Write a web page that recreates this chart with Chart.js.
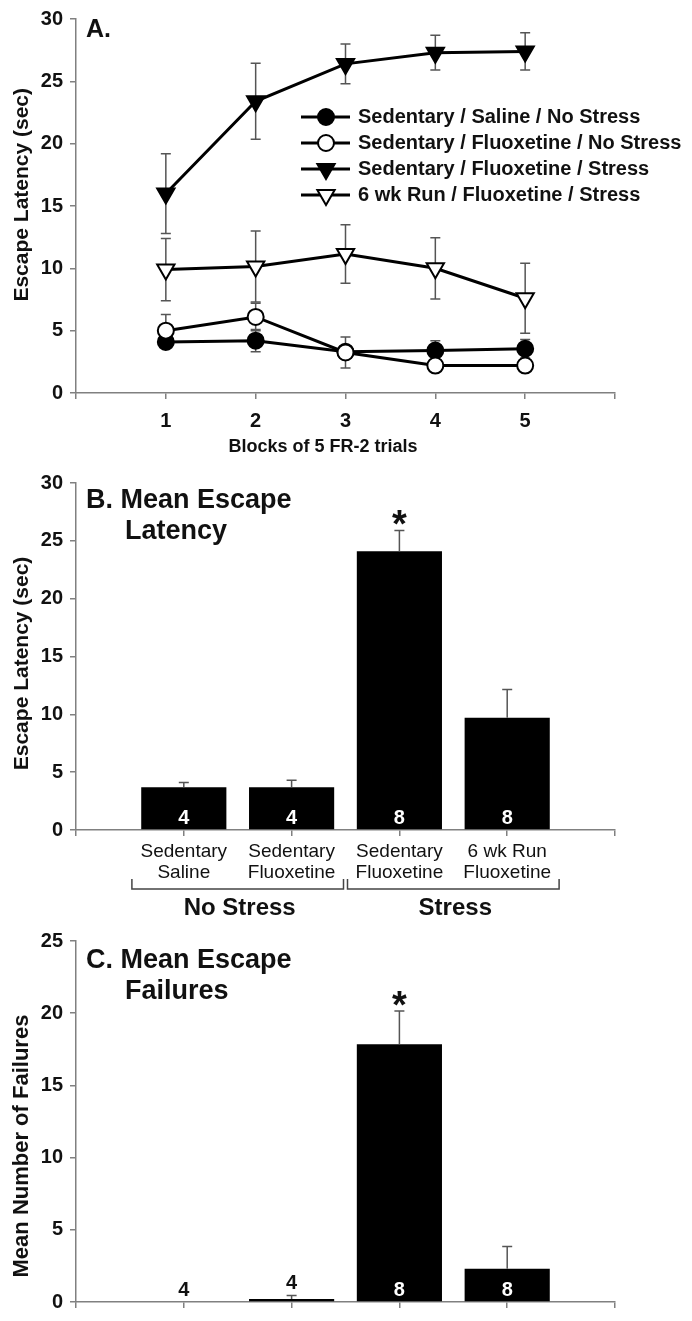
<!DOCTYPE html>
<html>
<head>
<meta charset="utf-8">
<script src="https://cdn.jsdelivr.net/npm/chart.js@4.4.1/dist/chart.umd.min.js"></script>
<style>
  html, body { margin: 0; padding: 0; background: #fff; }
  #wrap { position: relative; width: 692px; height: 1321px; }
  .panel { position: absolute; left: 0; width: 692px; }
</style>
</head>
<body>
<div id="wrap">
  <div class="panel" style="top:0"><canvas id="chartA" width="692" height="460"></canvas></div>
  <div class="panel" style="top:460px"><canvas id="chartB" width="692" height="460"></canvas></div>
  <div class="panel" style="top:920px"><canvas id="chartC" width="692" height="401"></canvas></div>
</div>
<script>
// ---- data ----
var blocks = [1, 2, 3, 4, 5];

var seriesNames = [
  'Sedentary / Saline / No Stress',
  'Sedentary / Fluoxetine / No Stress',
  'Sedentary / Fluoxetine / Stress',
  '6 wk Run / Fluoxetine / Stress'
];
var salineNoStress    = [4.1, 4.2, 3.3, 3.4, 3.55];
var salineNoStressErr = [0.5, 0.9, 0.5, 0.8, 0.75];
var fluoxNoStress     = [5.0, 6.1, 3.25, 2.2, 2.2];
var fluoxNoStressErr  = [1.3, 1.1, 1.25, 0.25, 0.25];
var fluoxStress       = [16.0, 23.4, 26.4, 27.3, 27.4];
var fluoxStressErr    = [3.2, 3.05, 1.6, 1.4, 1.5];
var runFluoxStress    = [9.9, 10.15, 11.15, 10.0, 7.6];
var runFluoxStressErr = [2.5, 2.85, 2.35, 2.45, 2.8];

var groupLabels = [['Sedentary', 'Saline'], ['Sedentary', 'Fluoxetine'], ['Sedentary', 'Fluoxetine'], ['6 wk Run', 'Fluoxetine']];
var groupN = ['4', '4', '8', '8'];
var significance = ['', '', '*', ''];
var stressGroups = [{ label: 'No Stress', first: 1, last: 2 }, { label: 'Stress', first: 3, last: 4 }];

var latencyMean = [3.7, 3.7, 24.1, 9.7];
var latencyErr  = [0.4, 0.6, 1.8, 2.45];
var failuresMean = [0, 0.2, 17.85, 2.3];
var failuresErr  = [0, 0.25, 2.3, 1.55];

// ---- styles ----
var FONT = "'Liberation Sans', Arial, sans-serif";
var AXIS_GREY = '#808080';
var TEXT = '#111';

var seriesStyles = [
  { pointStyle: 'circle', rotation: 0, radius: 8, fill: '#000' },
  { pointStyle: 'circle', rotation: 0, radius: 8, fill: '#fff' },
  { pointStyle: 'triangle', rotation: 180, radius: 10, fill: '#000' },
  { pointStyle: 'triangle', rotation: 180, radius: 10, fill: '#fff' }
];

function yAxis(max, width) {
  return {
    min: 0, max: max,
    ticks: { stepSize: 5, color: TEXT, font: { family: FONT, size: 20, weight: 'bold' }, padding: 7 },
    grid: { drawOnChartArea: false, color: AXIS_GREY, tickLength: 6, lineWidth: 1.5 },
    border: { color: AXIS_GREY, width: 1.5 },
    afterFit: function (scale) { scale.width = width; }
  };
}

function drawYTitle(chart, text, value, size) {
  var ctx = chart.ctx;
  var y = chart.scales.y.getPixelForValue(value);
  ctx.save();
  ctx.translate(22, y);
  ctx.rotate(-Math.PI / 2);
  ctx.font = 'bold ' + size + 'px ' + FONT;
  ctx.fillStyle = TEXT;
  ctx.textAlign = 'center';
  ctx.textBaseline = 'middle';
  ctx.fillText(text, 0, 0);
  ctx.restore();
}

function drawMarker(ctx, st, x, y) {
  ctx.fillStyle = st.fill;
  ctx.strokeStyle = '#000';
  ctx.lineWidth = 2;
  Chart.helpers.drawPoint(ctx, { pointStyle: st.pointStyle, rotation: st.rotation, radius: st.radius, borderWidth: 2 }, x, y);
}

function makeSeries(k, values, errors, order) {
  var st = seriesStyles[k];
  return {
    label: seriesNames[k],
    data: blocks.map(function (b, i) { return { x: b, y: values[i] }; }),
    errors: errors,
    borderColor: '#000',
    borderWidth: 3,
    pointStyle: st.pointStyle,
    rotation: st.rotation,
    pointRadius: st.radius,
    pointBackgroundColor: st.fill,
    pointBorderColor: '#000',
    pointBorderWidth: 2,
    tension: 0,
    order: order
  };
}

// ---- panel A ----
var lineErrorBars = {
  id: 'lineErrorBars',
  beforeDatasetsDraw: function (chart) {
    var ctx = chart.ctx, ys = chart.scales.y;
    ctx.save();
    ctx.strokeStyle = '#555';
    ctx.lineWidth = 1.5;
    chart.data.datasets.forEach(function (ds, di) {
      chart.getDatasetMeta(di).data.forEach(function (pt, i) {
        var v = ds.data[i].y, e = ds.errors[i];
        var top = ys.getPixelForValue(v + e), bot = ys.getPixelForValue(v - e);
        ctx.beginPath();
        ctx.moveTo(pt.x, top); ctx.lineTo(pt.x, bot);
        ctx.moveTo(pt.x - 5, top); ctx.lineTo(pt.x + 5, top);
        ctx.moveTo(pt.x - 5, bot); ctx.lineTo(pt.x + 5, bot);
        ctx.stroke();
      });
    });
    ctx.restore();
  }
};

var panelADecor = {
  id: 'panelADecor',
  afterDraw: function (chart) {
    var ctx = chart.ctx, area = chart.chartArea;
    ctx.save();
    ctx.fillStyle = TEXT;
    ctx.font = 'bold 25px ' + FONT;
    ctx.textAlign = 'left';
    ctx.textBaseline = 'alphabetic';
    ctx.fillText('A.', area.left + 10, 37);

    // legend
    ctx.font = 'bold 20px ' + FONT;
    ctx.textBaseline = 'middle';
    var rowY = [117, 143, 169, 195];
    for (var k = 0; k < seriesNames.length; k++) {
      var y = rowY[k];
      ctx.strokeStyle = '#000';
      ctx.lineWidth = 3;
      ctx.beginPath();
      ctx.moveTo(301, y); ctx.lineTo(350, y);
      ctx.stroke();
      drawMarker(ctx, seriesStyles[k], 326, y);
      ctx.fillStyle = TEXT;
      ctx.fillText(seriesNames[k], 358, y);
    }

    // x axis title
    ctx.textAlign = 'center';
    ctx.font = 'bold 18px ' + FONT;
    ctx.fillText('Blocks of 5 FR-2 trials', chart.scales.x.getPixelForValue(2.75), area.bottom + 54);
    ctx.restore();
    drawYTitle(chart, 'Escape Latency (sec)', 15.9, 21);
  }
};

new Chart(document.getElementById('chartA'), {
  type: 'line',
  data: {
    datasets: [
      makeSeries(0, salineNoStress, salineNoStressErr, 2),
      makeSeries(1, fluoxNoStress, fluoxNoStressErr, 1),
      makeSeries(2, fluoxStress, fluoxStressErr, 3),
      makeSeries(3, runFluoxStress, runFluoxStressErr, 4)
    ]
  },
  options: {
    responsive: false,
    animation: false,
    layout: { padding: { left: 0, right: 77, top: 16, bottom: 0 } },
    plugins: { legend: { display: false }, tooltip: { enabled: false } },
    scales: {
      x: {
        type: 'linear', min: 0, max: 6,
        ticks: {
          stepSize: 1, color: TEXT, padding: 10,
          font: { family: FONT, size: 20, weight: 'bold' },
          callback: function (v) { return (v >= 1 && v <= 5) ? v : ''; }
        },
        grid: { drawOnChartArea: false, color: AXIS_GREY, tickLength: 6, lineWidth: 1.5 },
        border: { color: AXIS_GREY, width: 1.5 },
        afterFit: function (scale) { scale.height = 67; }
      },
      y: yAxis(30, 76)
    }
  },
  plugins: [lineErrorBars, panelADecor]
});

// ---- panels B and C ----
function barDecor(errors, titleLines, yTitle, yTitleValue, yTitleSize, showGroups) {
  return {
    id: 'barDecor',
    afterDatasetsDraw: function (chart) {
      var ctx = chart.ctx, ys = chart.scales.y;
      var ds = chart.data.datasets[0], meta = chart.getDatasetMeta(0);
      var base = ys.getPixelForValue(0);
      ctx.save();
      meta.data.forEach(function (bar, i) {
        var v = ds.data[i];
        if (v === null) return;
        var k = i - 1, e = errors[k];
        var top = ys.getPixelForValue(v + e);
        if (e > 0) {
          ctx.strokeStyle = '#555';
          ctx.lineWidth = 1.5;
          ctx.beginPath();
          ctx.moveTo(bar.x, bar.y); ctx.lineTo(bar.x, top);
          ctx.moveTo(bar.x - 5, top); ctx.lineTo(bar.x + 5, top);
          ctx.stroke();
        }
        var tall = base - bar.y > 30;
        ctx.fillStyle = tall ? '#fff' : TEXT;
        ctx.font = 'bold 20px ' + FONT;
        ctx.textAlign = 'center';
        ctx.textBaseline = 'middle';
        ctx.fillText(groupN[k], bar.x, tall ? base - 12 : Math.min(base - 12, top - 12));
        if (significance[k]) {
          ctx.fillStyle = TEXT;
          ctx.font = 'bold 38px ' + FONT;
          ctx.textBaseline = 'alphabetic';
          ctx.fillText(significance[k], bar.x, top + 7);
        }
      });
      ctx.restore();
    },
    afterDraw: function (chart) {
      var ctx = chart.ctx, area = chart.chartArea, xs = chart.scales.x;
      ctx.save();
      ctx.fillStyle = TEXT;
      ctx.font = 'bold 27px ' + FONT;
      ctx.textAlign = 'left';
      ctx.textBaseline = 'alphabetic';
      ctx.fillText(titleLines[0], area.left + 10, 48);
      ctx.fillText(titleLines[1], area.left + 49, 79);
      if (showGroups) {
        stressGroups.forEach(function (g) {
          var x1 = xs.getPixelForValue(g.first - 0.5) + 2;
          var x2 = xs.getPixelForValue(g.last + 0.5) - 2;
          var yb = area.bottom + 59, yt = area.bottom + 49;
          ctx.strokeStyle = '#444';
          ctx.lineWidth = 1.5;
          ctx.beginPath();
          ctx.moveTo(x1, yt); ctx.lineTo(x1, yb); ctx.lineTo(x2, yb); ctx.lineTo(x2, yt);
          ctx.stroke();
          ctx.font = 'bold 24px ' + FONT;
          ctx.textAlign = 'center';
          ctx.textBaseline = 'middle';
          ctx.fillText(g.label, (x1 + x2) / 2 + 2, area.bottom + 78);
        });
      }
      ctx.restore();
      drawYTitle(chart, yTitle, yTitleValue, yTitleSize);
    }
  };
}

function barChart(canvasId, means, errors, yMax, padTop, xHeight, showLabels, titleLines, yTitle, yTitleValue, yTitleSize) {
  return new Chart(document.getElementById(canvasId), {
    type: 'bar',
    data: {
      labels: [''].concat(groupLabels, ['']),
      datasets: [{
        data: [null].concat(means, [null]),
        backgroundColor: '#000',
        borderWidth: 0,
        barPercentage: 0.79,
        categoryPercentage: 1
      }]
    },
    options: {
      responsive: false,
      animation: false,
      layout: { padding: { left: 0, right: 77, top: padTop, bottom: 0 } },
      plugins: { legend: { display: false }, tooltip: { enabled: false } },
      scales: {
        x: {
          offset: false,
          ticks: {
            color: TEXT, padding: 5, autoSkip: false, maxRotation: 0,
            font: { family: FONT, size: 19, lineHeight: 1.1 },
            callback: function (v) { return showLabels ? this.getLabelForValue(v) : ''; }
          },
          grid: { offset: false, drawOnChartArea: false, color: AXIS_GREY, tickLength: 6, lineWidth: 1.5 },
          border: { color: AXIS_GREY, width: 1.5 },
          afterFit: function (scale) { scale.height = xHeight; }
        },
        y: yAxis(yMax, 76)
      }
    },
    plugins: [barDecor(errors, titleLines, yTitle, yTitleValue, yTitleSize, showLabels)]
  });
}

barChart('chartB', latencyMean, latencyErr, 30, 23, 90, true,
  ['B. Mean Escape', 'Latency'], 'Escape Latency (sec)', 14.4, 21);
barChart('chartC', failuresMean, failuresErr, 25, 21, 8.3, false,
  ['C. Mean Escape', 'Failures'], 'Mean Number of Failures', 10.8, 22);
</script>
</body>
</html>
